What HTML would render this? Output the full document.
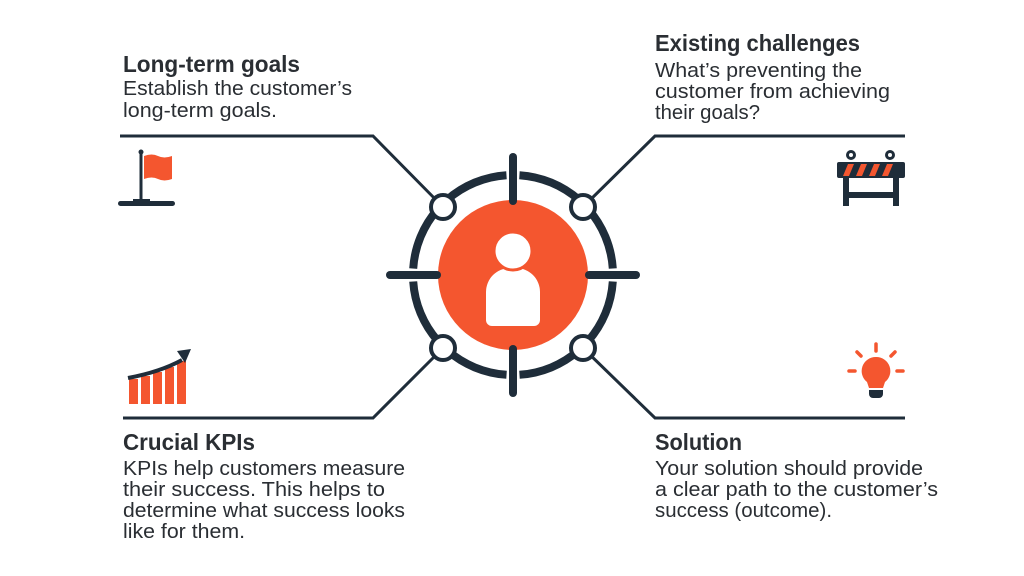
<!DOCTYPE html>
<html><head><meta charset="utf-8"><style>
html,body{margin:0;padding:0;background:#fff;}
svg{display:block}
text{font-family:"Liberation Sans",sans-serif;fill:#2a2e33}
.t{font-weight:bold;font-size:23px}
.b{font-size:20px}
</style></head><body>
<svg width="1024" height="576" viewBox="0 0 1024 576" xmlns="http://www.w3.org/2000/svg">
<rect width="1024" height="576" fill="#fff"/>
<g stroke="#1f2d3a" stroke-width="3" fill="none">
<polyline points="120,136 373,136 443,207"/>
<polyline points="905,136 655,136 583,207"/>
<polyline points="123,418 373,418 443,348"/>
<polyline points="905,418 655,418 583,348"/>
</g>
<circle cx="513" cy="275" r="75" fill="#f4562f"/>
<path d="M486 320 v-28 a24 24 0 0 1 24 -24 h6 a24 24 0 0 1 24 24 v28 a6 6 0 0 1 -6 6 h-42 a6 6 0 0 1 -6 -6z" fill="#fff"/>
<circle cx="513" cy="251" r="19" fill="#fff" stroke="#f4562f" stroke-width="3"/>
<g stroke="#1f2d3a" stroke-width="8" fill="none">
<circle cx="513" cy="275" r="100" stroke-dasharray="65.5 13" stroke-dashoffset="-6.5"/>
</g>
<g stroke="#1f2d3a" stroke-width="8" stroke-linecap="round">
<line x1="513" y1="157" x2="513" y2="201"/>
<line x1="513" y1="349" x2="513" y2="393"/>
<line x1="390" y1="275" x2="437" y2="275"/>
<line x1="589" y1="275" x2="636" y2="275"/>
</g>
<g fill="#fff" stroke="#1f2d3a" stroke-width="4">
<circle cx="443" cy="207" r="12"/>
<circle cx="583" cy="207" r="12"/>
<circle cx="443" cy="348" r="12"/>
<circle cx="583" cy="348" r="12"/>
</g>
<!-- flag -->
<line x1="141" y1="152" x2="141" y2="201" stroke="#1f2d3a" stroke-width="3"/>
<circle cx="141" cy="152" r="2.5" fill="#1f2d3a"/>
<path d="M144 156 q8 -3 14 0 t14 0 v23 q-8 3 -14 0 t-14 0z" fill="#f4562f"/>
<rect x="133" y="199" width="17" height="5" fill="#1f2d3a"/>
<rect x="118" y="201" width="57" height="5" rx="2.5" fill="#1f2d3a"/>
<!-- chart -->
<g fill="#f4562f">
<rect x="129" y="379" width="9" height="25"/>
<rect x="141" y="376" width="9" height="28"/>
<rect x="153" y="372" width="9" height="32"/>
<rect x="165" y="367" width="9" height="37"/>
<rect x="177" y="361" width="9" height="43"/>
</g>
<path d="M128 378 Q160 372 182 360" stroke="#1f2d3a" stroke-width="4" fill="none"/>
<path d="M191 349 l-14 2 l8 12z" fill="#1f2d3a"/>
<!-- barrier -->
<g fill="#1f2d3a">
<circle cx="851" cy="155" r="5"/><circle cx="890" cy="155" r="5"/>
<rect x="837" y="162" width="68" height="16" rx="2"/>
<rect x="843" y="178" width="6" height="28"/><rect x="893" y="178" width="6" height="28"/>
<rect x="843" y="192" width="56" height="6"/>
</g>
<circle cx="851" cy="155" r="2" fill="#fff"/><circle cx="890" cy="155" r="2" fill="#fff"/>
<g fill="#f4562f">
<polygon points="843,176 848,164 854,164 849,176"/>
<polygon points="856,176 861,164 867,164 862,176"/>
<polygon points="869,176 874,164 880,164 875,176"/>
<polygon points="882,176 887,164 893,164 888,176"/>
</g>
<!-- bulb -->
<g stroke="#f4562f" stroke-width="3.5" stroke-linecap="round">
<line x1="876" y1="344" x2="876" y2="351"/>
<line x1="857" y1="352" x2="861" y2="356"/>
<line x1="895" y1="352" x2="891" y2="356"/>
<line x1="849" y1="371" x2="855" y2="371"/>
<line x1="897" y1="371" x2="903" y2="371"/>
</g>
<path d="M876 357 a14 14 0 0 1 9 25 l-2 6 h-14 l-2 -6 a14 14 0 0 1 9 -25z" fill="#f4562f"/>
<path d="M869 390 h14 v4 a4 4 0 0 1 -4 4 h-6 a4 4 0 0 1 -4 -4z" fill="#1f2d3a"/>
<!-- text -->
<text class="t" x="123" y="72" textLength="177" lengthAdjust="spacingAndGlyphs">Long-term goals</text>
<text class="b" x="123" y="95" textLength="229" lengthAdjust="spacingAndGlyphs">Establish the customer’s</text>
<text class="b" x="123" y="117" textLength="154" lengthAdjust="spacingAndGlyphs">long-term goals.</text>

<text class="t" x="655" y="51" textLength="205" lengthAdjust="spacingAndGlyphs">Existing challenges</text>
<text class="b" x="655" y="77" textLength="207" lengthAdjust="spacingAndGlyphs">What’s preventing the</text>
<text class="b" x="655" y="98" textLength="235" lengthAdjust="spacingAndGlyphs">customer from achieving</text>
<text class="b" x="655" y="119" textLength="105" lengthAdjust="spacingAndGlyphs">their goals?</text>

<text class="t" x="123" y="450" textLength="132" lengthAdjust="spacingAndGlyphs">Crucial KPIs</text>
<text class="b" x="123" y="475" textLength="282" lengthAdjust="spacingAndGlyphs">KPIs help customers measure</text>
<text class="b" x="123" y="496" textLength="262" lengthAdjust="spacingAndGlyphs">their success. This helps to</text>
<text class="b" x="123" y="517" textLength="282" lengthAdjust="spacingAndGlyphs">determine what success looks</text>
<text class="b" x="123" y="538" textLength="122" lengthAdjust="spacingAndGlyphs">like for them.</text>

<text class="t" x="655" y="450" textLength="87" lengthAdjust="spacingAndGlyphs">Solution</text>
<text class="b" x="655" y="475" textLength="268" lengthAdjust="spacingAndGlyphs">Your solution should provide</text>
<text class="b" x="655" y="496" textLength="283" lengthAdjust="spacingAndGlyphs">a clear path to the customer’s</text>
<text class="b" x="655" y="517" textLength="177" lengthAdjust="spacingAndGlyphs">success (outcome).</text>
</svg>
</body></html>
